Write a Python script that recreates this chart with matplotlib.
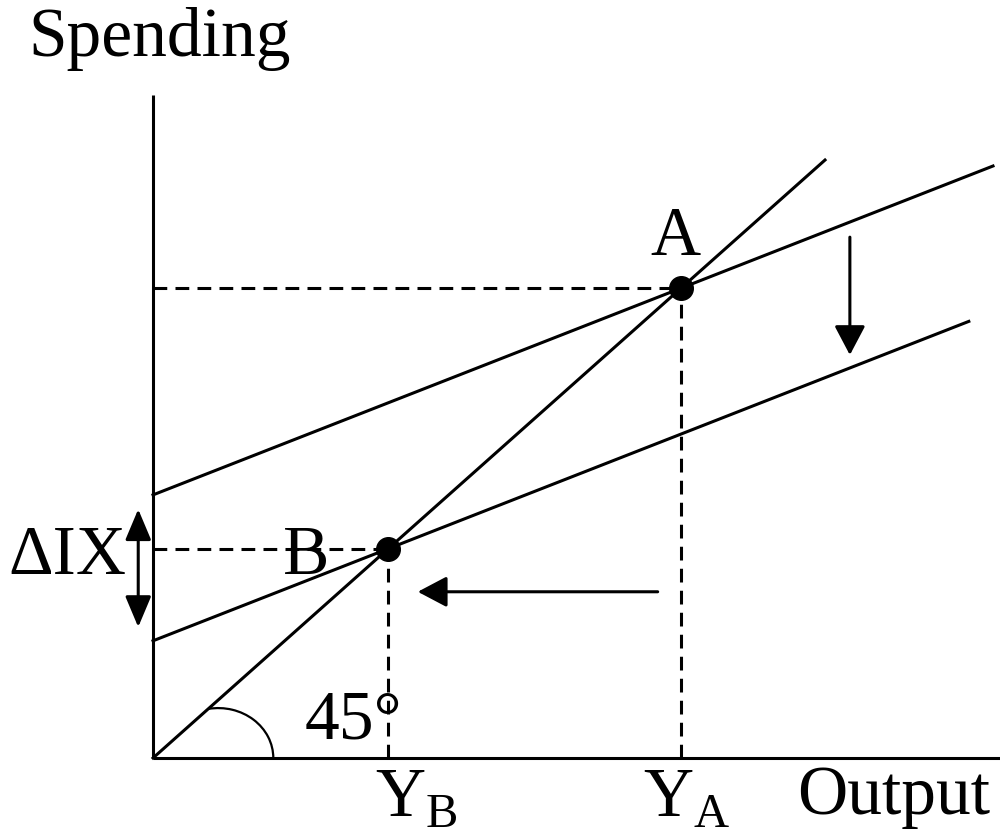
import numpy as np
import matplotlib
matplotlib.use('Agg')
import matplotlib.pyplot as plt
from matplotlib.patches import Arc

plt.rcParams['font.family'] = ['Liberation Serif', 'DejaVu Serif']
plt.rcParams['mathtext.fontset'] = 'custom'
plt.rcParams['mathtext.rm'] = 'Liberation Serif'

# spending lines: autonomous spending (intercept) and slope
intercepts = [44.0, 19.6]
slope = 0.44
line_ends = [125.0, 121.4]
diag_end = 100.0
point_names = ['A', 'B']
tick_names = ['$\\mathrm{Y}_{\\mathrm{A}}$', '$\\mathrm{Y}_{\\mathrm{B}}$']
tick_x = [72.9, 33.0]

lw = 2.2
fs = 50
fig = plt.figure(figsize=(10, 8.33), dpi=100)
ax = fig.add_axes([0, 0, 1, 1])
ax.set_xlim(-22.77, 126.04)
ax.set_ylim(-12.54, 126.76)
ax.axis('off')

# axes
ax.plot([0, 0], [0, 110.9], color='black', lw=lw, solid_capstyle='butt')
ax.plot([0, 126], [0, 0], color='black', lw=lw, solid_capstyle='butt')

# 45 degree line
ax.plot([0, diag_end], [0, diag_end], color='black', lw=lw)

# equilibrium points
eq = [a / (1 - slope) for a in intercepts]
for a, end, y, tick, tx in zip(intercepts, line_ends, eq, tick_names, tick_x):
    xs = np.array([0, end])
    ax.plot(xs, a + slope * xs, color='black', lw=lw)
    ax.plot([0, y], [y, y], color='black', lw=lw, dashes=(4.5, 2.7))
    ax.plot([y, y], [0, y], color='black', lw=lw, dashes=(4.5, 2.7))
    ax.plot(y, y, 'o', color='black', ms=17)
    ax.text(tx, -9.87, tick, fontsize=fs, ha='left', va='baseline')

ax.text(77.8, 84.1, point_names[0], fontsize=fs, ha='center', va='baseline')
ax.text(19.3, 30.8, point_names[1], fontsize=fs, ha='left', va='baseline')

# arrows
head = '-|>,head_length=1.8,head_width=0.95'
ax.annotate('', xy=(103.7, 67.4), xytext=(103.7, 87.1),
            arrowprops=dict(arrowstyle=head, color='black', lw=lw, shrinkA=0, shrinkB=0))
ax.annotate('', xy=(39.4, 27.8), xytext=(75.1, 27.8),
            arrowprops=dict(arrowstyle=head, color='black', lw=lw, shrinkA=0, shrinkB=0))
ax.annotate('', xy=(-2.2, 41.6), xytext=(-2.2, 21.9),
            arrowprops=dict(arrowstyle='<|-|>,head_length=1.9,head_width=0.8', color='black', lw=lw,
                            shrinkA=0, shrinkB=0))

# 45 degree arc
ax.add_patch(Arc((9.7, 0), 16.4, 16.7, theta1=0, theta2=100, color='black', lw=1.6))

ax.text(22.6, 3.3, '45°', fontsize=fs, ha='left', va='baseline')
ax.text(1.0, 117.4, 'Spending', fontsize=fs, ha='center', va='baseline')
ax.text(-3.9, 30.8, 'ΔIX', fontsize=fs, ha='right', va='baseline')
ax.text(95.8, -9.4, 'Output', fontsize=fs, ha='left', va='baseline')

fig.savefig('out.png', dpi=100)
